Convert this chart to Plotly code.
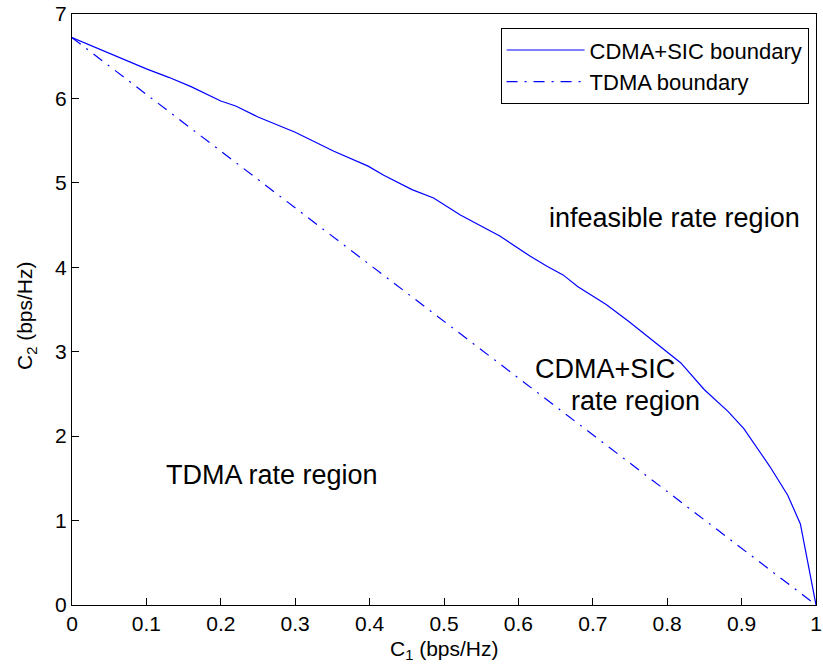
import plotly.graph_objects as go

# CDMA+SIC boundary
c1_cdma = [0, 0.03, 0.064, 0.1, 0.13, 0.16, 0.2, 0.22, 0.25, 0.3, 0.352, 0.398,
           0.419, 0.457, 0.486, 0.522, 0.575, 0.616, 0.639, 0.66, 0.68, 0.718,
           0.748, 0.78, 0.818, 0.85, 0.882, 0.903, 0.938, 0.962, 0.979, 1.0]
c2_cdma = [6.72, 6.61, 6.49, 6.35, 6.25, 6.14, 5.97, 5.91, 5.78, 5.60, 5.375, 5.198,
           5.09, 4.92, 4.82, 4.62, 4.37, 4.13, 4.01, 3.91, 3.77, 3.56,
           3.36, 3.14, 2.87, 2.55, 2.29, 2.09, 1.64, 1.30, 0.96, 0.0]

# TDMA boundary (straight line between end points)
c1_tdma = [0, 1]
c2_tdma = [6.72, 0]

x_ticks = [0, 0.1, 0.2, 0.3, 0.4, 0.5, 0.6, 0.7, 0.8, 0.9, 1]
x_tick_labels = ["0", "0.1", "0.2", "0.3", "0.4", "0.5", "0.6", "0.7", "0.8", "0.9", "1"]
y_ticks = [0, 1, 2, 3, 4, 5, 6, 7]

x_title = "C<sub>1</sub> (bps/Hz)"
y_title = "C<sub>2</sub> (bps/Hz)"

FONT = "Liberation Sans, Arial, Helvetica, sans-serif"

fig = go.Figure()
fig.add_trace(go.Scatter(x=c1_cdma, y=c2_cdma, mode="lines", name="CDMA+SIC boundary",
                         line=dict(color="#0000ff", width=1.2)))
fig.add_trace(go.Scatter(x=c1_tdma, y=c2_tdma, mode="lines", name="TDMA boundary",
                         line=dict(color="#0000ff", width=1.2, dash="11px,7px,2px,7px")))

ann_font = dict(family=FONT, size=27, color="black")
annotations = [
    dict(x=0.639, y=4.585, text="infeasible rate region"),
    dict(x=0.619, y=2.79, text="CDMA+SIC"),
    dict(x=0.668, y=2.42, text="rate region"),
    dict(x=0.123, y=1.54, text="TDMA rate region"),
]
for a in annotations:
    fig.add_annotation(x=a["x"], y=a["y"], text=a["text"], xref="x", yref="y",
                       xanchor="left", yanchor="middle", showarrow=False, font=ann_font)

# axis titles placed as text just outside the frame
title_font = dict(family=FONT, size=21, color="black")
fig.add_annotation(x=0.5, y=-0.1015, xref="paper", yref="paper", text=x_title,
                   xanchor="center", yanchor="bottom", showarrow=False, font=title_font)
fig.add_annotation(x=-0.061, y=0.49, xref="paper", yref="paper", text=y_title,
                   textangle=-90, xanchor="center", yanchor="middle", showarrow=False,
                   font=title_font)

axis_common = dict(showline=True, linecolor="black", linewidth=1, mirror=True,
                   ticks="inside", ticklen=7, tickcolor="black", tickwidth=1,
                   showgrid=False, zeroline=False, ticklabeloverflow="allow",
                   tickfont=dict(family=FONT, size=21, color="black"))

fig.update_xaxes(range=[0, 1], tickvals=x_ticks, ticktext=x_tick_labels, **axis_common)
fig.update_yaxes(range=[0, 7], tickvals=y_ticks, **axis_common)

fig.update_layout(
    width=823, height=670,
    margin=dict(l=72, r=7, t=14, b=65, autoexpand=False),
    paper_bgcolor="white", plot_bgcolor="white",
    showlegend=True,
    legend=dict(x=0.99, y=0.976, xanchor="right", yanchor="top",
                bgcolor="white", bordercolor="black", borderwidth=1,
                itemwidth=78, tracegroupgap=0,
                font=dict(family=FONT, size=22, color="black")),
)

fig.write_html("out.html",
               config={"displayModeBar": False},
               post_script="document.body.style.margin='0';document.body.style.overflow='hidden';")
